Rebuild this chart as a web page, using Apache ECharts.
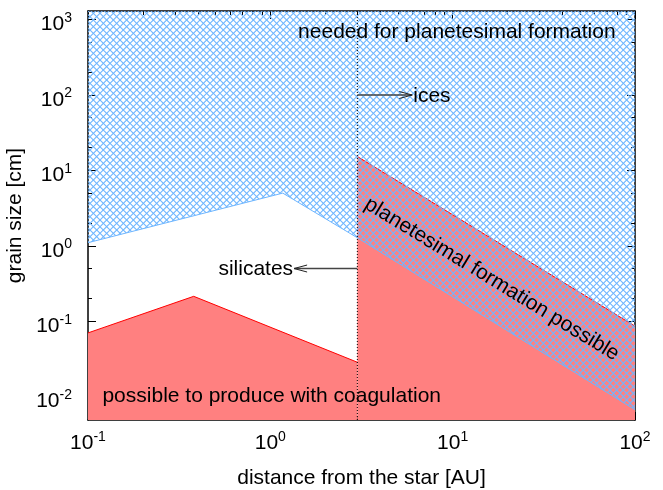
<!DOCTYPE html>
<html>
<head>
<meta charset="utf-8">
<script src="https://cdn.jsdelivr.net/npm/echarts@6/dist/echarts.min.js"></script>
<style>
  html, body { margin: 0; padding: 0; background: #fff; }
  #chart { width: 663px; height: 490px; }
</style>
</head>
<body>
<div id="chart"></div>
<script>
// Axis extents: distance [AU] and grain size [cm]
const xRange = [0.1, 100];
const yRange = [0.0049, 1300];

// Tick positions
const xMajorTicks = [0.1, 1, 10, 100];
const xMinorTicks = [0.2, 0.3, 0.4, 0.5, 0.6, 0.7, 0.8, 0.9,
                     2, 3, 4, 5, 6, 7, 8, 9,
                     20, 30, 40, 50, 60, 70, 80, 90];
const yMajorTicks = [0.01, 0.1, 1, 10, 100, 1000];
const yMinorTicks = [0.02, 0.05, 0.2, 0.5, 2, 5, 20, 50, 200, 500];

// Largest size reachable by coagulation, silicate grains (inside the snow line)
const silicateDist = [0.1, 0.38, 3];
const silicateSize = [0.070, 0.214, 0.0286];

// Largest size reachable by coagulation, icy grains (outside the snow line)
const iceDist = [3, 100];
const iceSize = [15.3, 0.086];

// Minimum size needed for planetesimal formation
const neededDist = [0.1, 1.17, 3, 100];
const neededSize = [1.1, 5.0, 1.28, 0.0067];

// Snow line
const snowLine = 3;

// Arrows: start distance, end distance, size, label
const arrowStart = [3, 3];
const arrowEnd = [6, 1.35];
const arrowSize = [100, 0.5];
const arrowText = ['ices', 'silicates'];

// Free text labels: distance, size, label
const noteDist = [1.42, 0.12];
const noteSize = [680, 0.01];
const noteText = ['needed for planetesimal formation', 'possible to produce with coagulation'];

// Label running along the planetesimal band
const bandLabelDist = 16.4;
const bandLabelSize = 0.36;
const bandLabelText = 'planetesimal formation possible';

const FONT = '"Liberation Sans", Arial, Helvetica, sans-serif';
const pairs = (xs, ys) => xs.map((x, i) => [x, ys[i]]);

// Cross-hatch tile for the "needed" region
function hatchTile() {
  const s = 20, step = s / 3;
  const c = document.createElement('canvas');
  c.width = s; c.height = s;
  const g = c.getContext('2d');
  g.strokeStyle = 'rgb(110,182,255)';
  g.lineWidth = 1.1;
  for (let k = -6; k <= 6; k++) {
    const o = k * step;
    g.beginPath(); g.moveTo(o - s, -s); g.lineTo(o + 2 * s, 2 * s); g.stroke();
    g.beginPath(); g.moveTo(o - s, 2 * s); g.lineTo(o + 2 * s, -s); g.stroke();
  }
  return c;
}

const powLabel = v => {
  const e = Math.round(Math.log10(v));
  return '{b|10}{s|' + e + '}';
};
const labelRich = {
  b: { fontSize: 21, fontFamily: FONT, color: '#000', padding: [3, 0, 0, 0] },
  s: { fontSize: 14, fontFamily: FONT, color: '#000', verticalAlign: 'top' }
};

const frame = { show: true, onZero: false, lineStyle: { color: '#000', width: 1.5 } };
const noLine = { show: false, onZero: false };

function xAxisDef(pos, ticks, len, withLabels, withLine) {
  return {
    type: 'log', logBase: 10, min: xRange[0], max: xRange[1], position: pos,
    axisLine: withLine ? frame : noLine,
    splitLine: { show: false },
    axisTick: { show: true, inside: true, length: len, customValues: ticks,
                lineStyle: { color: '#000', width: 1 } },
    axisLabel: withLabels ? {
      show: true, customValues: ticks, margin: 10, formatter: powLabel, rich: labelRich
    } : { show: false },
    name: withLabels ? 'distance from the star [AU]' : '',
    nameLocation: 'middle', nameGap: 48,
    nameTextStyle: { fontSize: 21, fontFamily: FONT, color: '#000' }
  };
}
function yAxisDef(pos, ticks, len, withLabels, withLine) {
  return {
    type: 'log', logBase: 10, min: yRange[0], max: yRange[1], position: pos,
    axisLine: withLine ? frame : noLine,
    splitLine: { show: false },
    axisTick: { show: true, inside: true, length: len, customValues: ticks,
                lineStyle: { color: '#000', width: 1 } },
    axisLabel: withLabels ? {
      show: true, customValues: ticks, margin: 16, formatter: powLabel, rich: labelRich,
      padding: [7, 0, 0, 0]
    } : { show: false },
    name: withLabels ? 'grain size [cm]' : '',
    nameLocation: 'middle', nameGap: 60,
    nameTextStyle: { fontSize: 21, fontFamily: FONT, color: '#000' }
  };
}

const chart = echarts.init(document.getElementById('chart'), null, { renderer: 'canvas' });

chart.setOption({
  animation: false,
  backgroundColor: '#fff',
  grid: { left: 88, right: 28, top: 11, bottom: 70, containLabel: false, outerBoundsMode: 'none' },
  xAxis: [
    xAxisDef('bottom', xMajorTicks, 8, true, true),
    xAxisDef('bottom', xMinorTicks, 4, false, false),
    xAxisDef('top', xMajorTicks, 8, false, true),
    xAxisDef('top', xMinorTicks, 4, false, false)
  ],
  yAxis: [
    yAxisDef('left', yMajorTicks, 8, true, true),
    yAxisDef('left', yMinorTicks, 4, false, false),
    yAxisDef('right', yMajorTicks, 8, false, true),
    yAxisDef('right', yMinorTicks, 4, false, false)
  ],
  series: [
    {
      name: 'silicates', type: 'line', z: 2,
      data: pairs(silicateDist, silicateSize),
      showSymbol: false, symbol: 'none',
      lineStyle: { color: '#ff0000', width: 1 },
      areaStyle: { color: '#ff8080', opacity: 1, origin: 'start' }
    },
    {
      name: 'ices', type: 'line', z: 2,
      data: pairs(iceDist, iceSize),
      showSymbol: false, symbol: 'none',
      lineStyle: { color: '#ff0000', width: 1 },
      areaStyle: { color: '#ff8080', opacity: 1, origin: 'start' }
    },
    {
      name: 'needed', type: 'line', z: 3,
      data: pairs(neededDist, neededSize),
      showSymbol: false, symbol: 'none',
      lineStyle: { color: 'rgb(110,182,255)', width: 1 },
      areaStyle: { color: { image: hatchTile(), repeat: 'repeat' }, opacity: 1, origin: 'end' }
    },
    {
      name: 'snow line', type: 'line', z: 4,
      data: [[snowLine, yRange[0]], [snowLine, yRange[1]]],
      showSymbol: false, symbol: 'none',
      lineStyle: { color: '#000', width: 1, type: [1, 2] }
    },
    {
      name: 'arrows', type: 'custom', z: 6,
      data: arrowStart.map((s, i) => [s, arrowEnd[i], arrowSize[i]]),
      renderItem(params, api) {
        const p0 = api.coord([api.value(0), api.value(2)]);
        const p1 = api.coord([api.value(1), api.value(2)]);
        const dir = p1[0] > p0[0] ? 1 : -1;
        const hl = 13, hw = 3.5;
        return {
          type: 'group',
          children: [
            { type: 'line', shape: { x1: p0[0], y1: p0[1], x2: p1[0], y2: p1[1] },
              style: { stroke: '#444', lineWidth: 1.6 } },
            { type: 'polyline',
              shape: { points: [[p1[0] - dir * hl, p1[1] - hw], [p1[0], p1[1]], [p1[0] - dir * hl, p1[1] + hw]] },
              style: { stroke: '#222', lineWidth: 1, fill: null } },
            { type: 'text',
              style: { text: arrowText[params.dataIndex], x: p1[0] + dir, y: p1[1] + 1,
                       align: dir > 0 ? 'left' : 'right', verticalAlign: 'middle',
                       font: '21px ' + FONT, fill: '#000' } }
          ]
        };
      }
    },
    {
      name: 'notes', type: 'custom', z: 6,
      data: noteDist.map((d, i) => [d, noteSize[i]]),
      renderItem(params, api) {
        const p = api.coord([api.value(0), api.value(1)]);
        return {
          type: 'text',
          style: { text: noteText[params.dataIndex], x: p[0], y: p[1],
                   align: 'left', verticalAlign: 'middle',
                   font: '21px ' + FONT, fill: '#000' }
        };
      }
    },
    {
      name: 'band label', type: 'custom', z: 6,
      data: [[bandLabelDist, bandLabelSize]],
      renderItem(params, api) {
        const p = api.coord([api.value(0), api.value(1)]);
        // orient the text along the upper edge of the band
        const a = api.coord(pairs(iceDist, iceSize)[0]);
        const b = api.coord(pairs(iceDist, iceSize)[1]);
        const ang = Math.atan2(b[1] - a[1], b[0] - a[0]);
        return {
          type: 'text',
          x: p[0], y: p[1], rotation: -ang,
          style: { text: bandLabelText, x: 0, y: 0,
                   align: 'center', verticalAlign: 'middle',
                   font: '21px ' + FONT, fill: '#000' }
        };
      }
    }
  ]
});
</script>
</body>
</html>
